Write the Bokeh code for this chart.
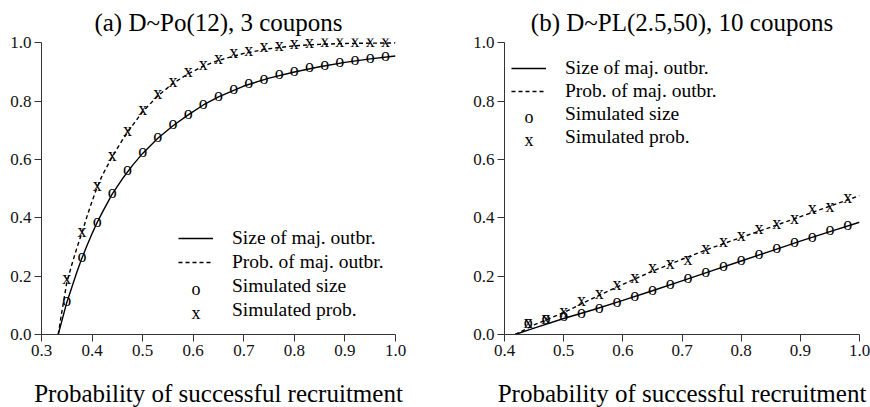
from bokeh.plotting import figure
from bokeh.layouts import row
from bokeh.models import (ColumnDataSource, Range1d, FixedTicker, PrintfTickFormatter,
                          Legend, LegendItem, Label)
from bokeh.core.properties import value
from bokeh.embed import file_html
from bokeh.resources import INLINE

SERIF = "Liberation Serif"

# ---------------- panel (a): D~Po(12), 3 coupons ----------------
title_a = "(a) D~Po(12), 3 coupons"
curve_x_a = [0.333, 0.34, 0.35, 0.36, 0.37, 0.38, 0.39, 0.40, 0.41, 0.42, 0.44, 0.46, 0.48,
             0.50, 0.53, 0.56, 0.59, 0.62, 0.65, 0.70, 0.75, 0.80, 0.85, 0.90, 0.95, 1.00]
size_curve_a = [0.0, 0.045, 0.11, 0.162, 0.214, 0.262, 0.305, 0.346, 0.384, 0.418, 0.482, 0.534,
                0.580, 0.621, 0.673, 0.716, 0.753, 0.787, 0.815, 0.852, 0.879, 0.900, 0.918,
                0.933, 0.945, 0.955]
prob_curve_a = [0.0, 0.075, 0.178, 0.240, 0.297, 0.349, 0.405, 0.457, 0.505, 0.545, 0.610, 0.667,
                0.717, 0.764, 0.818, 0.861, 0.894, 0.920, 0.940, 0.964, 0.980, 0.990, 0.995,
                0.998, 0.999, 1.0]
sim_x_a = [0.35, 0.38, 0.41, 0.44, 0.47, 0.50, 0.53, 0.56, 0.59, 0.62, 0.65, 0.68, 0.71, 0.74,
           0.77, 0.80, 0.83, 0.86, 0.89, 0.92, 0.95, 0.98]
sim_size_a = [0.113, 0.262, 0.384, 0.482, 0.559, 0.621, 0.673, 0.718, 0.754, 0.788, 0.816, 0.837,
              0.858, 0.874, 0.890, 0.901, 0.914, 0.922, 0.932, 0.939, 0.945, 0.952]
sim_prob_a = [0.188, 0.349, 0.507, 0.610, 0.694, 0.768, 0.822, 0.864, 0.896, 0.921, 0.941, 0.962,
              0.969, 0.981, 0.986, 0.992, 0.997, 0.998, 0.999, 1.0, 1.0, 1.0]
xticks_a = [0.3, 0.4, 0.5, 0.6, 0.7, 0.8, 0.9, 1.0]

# ---------------- panel (b): D~PL(2.5,50), 10 coupons ----------------
title_b = "(b) D~PL(2.5,50), 10 coupons"
curve_x_b = [0.418, 0.45, 0.50, 0.55, 0.60, 0.65, 0.70, 0.75, 0.80, 0.85, 0.90, 0.95, 1.00]
size_curve_b = [0.0, 0.022, 0.055, 0.085, 0.117, 0.150, 0.184, 0.218, 0.252, 0.286, 0.320,
                0.353, 0.385]
prob_curve_b = [0.0, 0.033, 0.075, 0.125, 0.172, 0.217, 0.258, 0.297, 0.333, 0.368, 0.404,
                0.440, 0.476]
sim_x_b = [0.44, 0.47, 0.50, 0.53, 0.56, 0.59, 0.62, 0.65, 0.68, 0.71, 0.74, 0.77, 0.80, 0.83,
           0.86, 0.89, 0.92, 0.95, 0.98]
sim_size_b = [0.037, 0.049, 0.060, 0.071, 0.088, 0.109, 0.129, 0.150, 0.170, 0.190, 0.211, 0.231,
              0.252, 0.273, 0.293, 0.313, 0.330, 0.355, 0.372]
sim_prob_b = [0.035, 0.050, 0.074, 0.113, 0.136, 0.167, 0.190, 0.224, 0.238, 0.253, 0.289, 0.314,
              0.334, 0.357, 0.376, 0.391, 0.428, 0.434, 0.466]
xticks_b = [0.4, 0.5, 0.6, 0.7, 0.8, 0.9, 1.0]

yticks = [0.0, 0.2, 0.4, 0.6, 0.8, 1.0]
xlabel = "Probability of successful recruitment"
legend_labels = ["Size of maj. outbr.", "Prob. of maj. outbr.", "Simulated size", "Simulated prob."]
legend_symbols = ["o", "x"]

FRAME_H = 296
Y_TOP = 1.015
LEG_ROW = 22
GLYPH_W = 35


def panel(title, xr, xticks, cx, cs, cp, sx, ss, sp, fw, bl, br, leg_loc, leg_spacing):
    p = figure(frame_width=fw, frame_height=FRAME_H, output_backend="svg",
               toolbar_location=None,
               x_range=Range1d(xr[0], xr[1]), y_range=Range1d(0, Y_TOP),
               min_border_left=bl, min_border_right=br, min_border_top=38,
               min_border_bottom=73)
    p.outline_line_color = None
    p.grid.visible = False
    p.background_fill_color = "white"
    p.title.text = title
    p.title.text_font = SERIF
    p.title.text_font_size = "25px"
    p.title.text_font_style = "normal"
    p.title.align = "center"
    p.title.standoff = 6
    p.title.text_color = "black"

    p.xaxis.ticker = FixedTicker(ticks=xticks)
    p.yaxis.ticker = FixedTicker(ticks=yticks)
    p.xaxis.formatter = PrintfTickFormatter(format="%.1f")
    p.yaxis.formatter = PrintfTickFormatter(format="%.1f")
    for ax in p.xaxis + p.yaxis:
        ax.axis_line_color = "#333333"
        ax.major_tick_line_color = "#333333"
        ax.major_tick_out = 7
        ax.major_tick_in = 0
        ax.minor_tick_line_color = None
        ax.major_label_text_font = SERIF
        ax.major_label_text_font_size = "17px"
        ax.major_label_text_font_style = "normal"
        ax.major_label_text_color = "#111111"
        ax.major_label_standoff = 3
    p.xaxis.bounds = (xr[0], xr[1])
    p.yaxis.bounds = (0, 1)
    p.xaxis.axis_label = xlabel
    p.xaxis.axis_label_text_font = SERIF
    p.xaxis.axis_label_text_font_size = "25px"
    p.xaxis.axis_label_text_font_style = "normal"
    p.xaxis.axis_label_text_color = "black"
    p.xaxis.axis_label_standoff = 21

    r1 = p.line(cx, cs, line_color="black", line_width=1.4)
    r2 = p.line(cx, cp, line_color="black", line_width=1.4, line_dash="4 3")
    src_s = ColumnDataSource(dict(x=sx, y=ss, t=[legend_symbols[0]] * len(sx)))
    src_p = ColumnDataSource(dict(x=sx, y=sp, t=[legend_symbols[1]] * len(sx)))
    common = dict(text_font=value(SERIF), text_font_size="18px", text_align="center",
                  text_baseline="middle", y_offset=-2, text_color="black")
    r3 = p.text(x="x", y="y", text="t", source=src_s, **common)
    r4 = p.text(x="x", y="y", text="t", source=src_p, **common)

    leg = Legend(items=[LegendItem(label=legend_labels[0], renderers=[r1]),
                        LegendItem(label=legend_labels[1], renderers=[r2]),
                        LegendItem(label=legend_labels[2], renderers=[r3]),
                        LegendItem(label=legend_labels[3], renderers=[r4])],
                 location=leg_loc)
    leg.border_line_color = None
    leg.background_fill_alpha = 0
    leg.padding = 0
    leg.margin = 0
    leg.spacing = leg_spacing
    leg.glyph_width = GLYPH_W
    leg.glyph_height = LEG_ROW
    leg.label_height = LEG_ROW
    leg.label_standoff = 19
    leg.label_text_font = SERIF
    leg.label_text_font_size = "19.5px"
    leg.label_text_color = "black"
    p.add_layout(leg, "center")

    # symbols "o" / "x" in the legend glyph slots of rows 3 and 4
    px_per_x = fw / (xr[1] - xr[0])
    px_per_y = FRAME_H / Y_TOP
    sym_x = xr[0] + (leg_loc[0] + GLYPH_W / 2) / px_per_x
    for k, sym in enumerate(legend_symbols):
        row_from_bottom = 1 - k
        cy = leg_loc[1] + row_from_bottom * (LEG_ROW + leg_spacing) + LEG_ROW / 2 - 2
        p.add_layout(Label(x=sym_x, y=cy / px_per_y, text=sym, text_font=SERIF,
                           text_font_size="18px", text_align="center",
                           text_baseline="middle", text_color="black"))
    return p


pa = panel(title_a, (0.3, 1.0), xticks_a, curve_x_a, size_curve_a, prob_curve_a,
           sim_x_a, sim_size_a, sim_prob_a, 354, 41, 40, (137, 13), 2)
pb = panel(title_b, (0.4, 1.0), xticks_b, curve_x_b, size_curve_b, prob_curve_b,
           sim_x_b, sim_size_b, sim_prob_b, 355, 69, 11, (7, 186), 1)

layout = row(pa, pb)
open("out.html", "w").write(file_html(layout, INLINE))
